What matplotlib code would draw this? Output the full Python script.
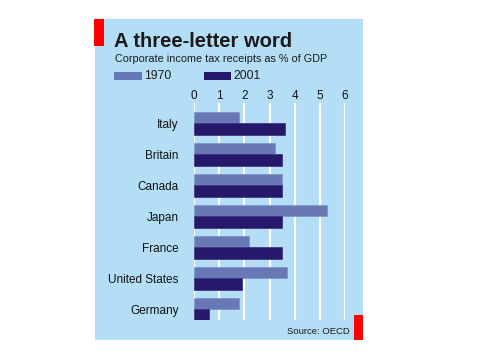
import matplotlib
matplotlib.use("Agg")
import matplotlib.pyplot as plt
from matplotlib.patches import Rectangle
import numpy as np

plt.rcParams['font.family'] = ['Liberation Sans', 'DejaVu Sans']

countries = ["Italy", "Britain", "Canada", "Japan", "France", "United States", "Germany"]
v1970 = [1.8, 3.2, 3.5, 5.3, 2.2, 3.7, 1.8]
v2001 = [3.6, 3.5, 3.5, 3.5, 3.5, 1.9, 0.6]
series_labels = ["1970", "2001"]
xticks = [0, 1, 2, 3, 4, 5, 6]

W, H = 478, 352
fig = plt.figure(figsize=(W / 100, H / 100), dpi=100)
fig.patch.set_facecolor("white")

bg = "#B4DEF6"
c1970 = "#6878B4"
c2001 = "#26186A"

def fx(px):
    return px / W

def fy(py):
    return 1 - py / H

# background panel
fig.patches.append(Rectangle((fx(95), fy(340)), fx(363) - fx(95), fy(19) - fy(340),
                             transform=fig.transFigure, facecolor=bg, edgecolor="none", zorder=0))
# red markers
fig.patches.append(Rectangle((fx(94), fy(46)), fx(104) - fx(94), fy(19) - fy(46),
                             transform=fig.transFigure, facecolor="#FF0000", edgecolor="none", zorder=1))
fig.patches.append(Rectangle((fx(354), fy(340)), fx(363) - fx(354), fy(315) - fy(340),
                             transform=fig.transFigure, facecolor="#FF0000", edgecolor="none", zorder=1))

ax = fig.add_axes([fx(194), fy(320), fx(345) - fx(194), fy(103) - fy(320)])
ax.set_zorder(3)
ax.set_facecolor("none")

y = np.arange(len(countries))
h = 0.37
ax.barh(y - h / 2, v1970, height=h, color=c1970, edgecolor="#7F8FC6", linewidth=0.5, zorder=3)
ax.barh(y + h / 2, v2001, height=h, color=c2001, edgecolor="#3A2C80", linewidth=0.5, zorder=3)

ax.set_xlim(0, 6)
ax.set_ylim(6.339, -0.661)
ax.set_xticks(xticks)
ax.set_xticklabels([str(t) for t in xticks], fontsize=8.5, color="#111111")
ax.xaxis.tick_top()
ax.tick_params(axis="x", length=0, pad=1)
ax.set_yticks(y)
ax.set_yticklabels(countries, fontsize=8.5, color="#111111")
ax.tick_params(axis="y", length=0, pad=11)
ax.grid(axis="x", color="white", linewidth=1.5, zorder=1)
ax.set_axisbelow(True)
for s in ax.spines.values():
    s.set_visible(False)

# titles
fig.text(fx(114), fy(47), "A three-letter word", fontsize=14.5, fontweight="bold",
         color="#1a1a1a", ha="left", va="baseline", zorder=4)
fig.text(fx(115), fy(62), "Corporate income tax receipts as % of GDP", fontsize=7.8,
         color="#1a1a1a", ha="left", va="baseline", zorder=4)

# legend
fig.patches.append(Rectangle((fx(114), fy(80)), fx(142) - fx(114), fy(72) - fy(80),
                             transform=fig.transFigure, facecolor=c1970, edgecolor="none", zorder=2))
fig.text(fx(144), fy(76), series_labels[0], fontsize=8.8, color="#1a1a1a", ha="left", va="center", zorder=4)
fig.patches.append(Rectangle((fx(204), fy(80)), fx(231) - fx(204), fy(72) - fy(80),
                             transform=fig.transFigure, facecolor=c2001, edgecolor="none", zorder=2))
fig.text(fx(233), fy(76), series_labels[1], fontsize=8.8, color="#1a1a1a", ha="left", va="center", zorder=4)

fig.text(fx(350), fy(332), "Source: OECD", fontsize=6.8, color="#1a1a1a", ha="right", va="center", zorder=4)

fig.savefig("out.png", dpi=100, facecolor="white")
